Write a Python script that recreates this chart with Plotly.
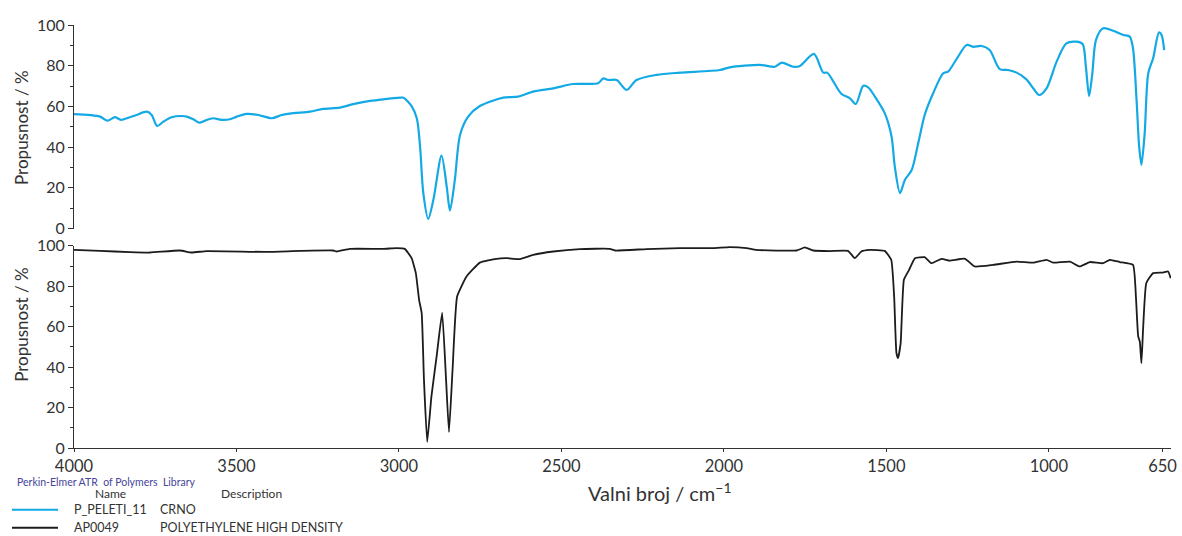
import plotly.graph_objects as go

# ---------------- data ----------------
wn_sample = [4000, 3920, 3897, 3874, 3856, 3828, 3808, 3776, 3761, 3744, 3725, 3700, 3668, 3653,
             3633, 3614, 3597, 3572, 3546, 3520, 3499, 3469, 3433, 3391, 3361, 3325, 3274, 3233,
             3182, 3141, 3089, 3049, 2996, 2986, 2961, 2945, 2935, 2925, 2910, 2894, 2869, 2853,
             2843, 2828, 2812, 2787, 2751, 2679, 2633, 2587, 2525, 2464, 2387, 2371, 2356, 2330,
             2299, 2269, 2207, 2135, 2012, 1982, 1889, 1843, 1822, 1787, 1766, 1723, 1694, 1682,
             1669, 1638, 1612, 1594, 1571, 1556, 1535, 1505, 1484, 1474, 1458, 1443, 1422, 1402,
             1382, 1356, 1325, 1310, 1284, 1253, 1233, 1207, 1182, 1151, 1125, 1099, 1069, 1048,
             1030, 1007, 976, 946, 915, 896, 886, 876, 866, 855, 833, 802, 771, 751, 741, 730,
             722, 715, 705, 694, 679, 661, 653, 645]
t_sample = [56.2, 55.0, 53.0, 54.7, 53.4, 54.7, 55.8, 57.4, 55.8, 50.4, 52.5, 54.7, 55.3, 55.0,
            53.7, 52.0, 53.0, 54.2, 53.4, 53.7, 55.0, 56.3, 55.8, 54.2, 55.8, 56.7, 57.4, 58.8,
            59.4, 61.1, 62.7, 63.5, 64.3, 64.3, 60.2, 54.2, 40.3, 17.4, 4.8, 14.1, 35.8, 20.6,
            8.8, 23.9, 46.0, 55.0, 60.2, 64.3, 64.8, 67.3, 68.9, 71.0, 71.4, 73.8, 73.0, 73.0,
            68.1, 73.0, 75.5, 76.6, 77.9, 79.2, 80.4, 79.5, 81.5, 79.5, 79.9, 85.8, 76.6, 76.6,
            73.8, 66.1, 64.0, 61.2, 70.1, 69.4, 64.8, 56.7, 45.2, 30.4, 17.4, 23.9, 28.8, 41.9,
            55.8, 66.5, 76.3, 77.1, 83.2, 90.2, 89.3, 89.7, 87.7, 78.3, 77.9, 76.6, 73.3, 68.9,
            65.6, 68.9, 82.0, 91.0, 91.8, 90.7, 79.5, 65.1, 76.3, 92.6, 98.4, 97.2, 95.1, 94.3,
            88.6, 63.2, 40.3, 31.3, 46.8, 76.3, 83.7, 96.4, 95.1, 87.7]

wn_hdpe = [4000, 3920, 3828, 3766, 3674, 3638, 3592, 3407, 3305, 3202, 3192, 3151, 3048, 3007,
           2982, 2961, 2948, 2938, 2930, 2923, 2913, 2900, 2884, 2867, 2855, 2846, 2835, 2821,
           2792, 2751, 2700, 2669, 2628, 2587, 2525, 2443, 2351, 2335, 2238, 2135, 2033, 1982,
           1930, 1900, 1776, 1751, 1725, 1674, 1618, 1597, 1577, 1551, 1505, 1485, 1476, 1469,
           1464, 1456, 1446, 1430, 1412, 1382, 1361, 1330, 1305, 1258, 1228, 1171, 1099, 1048,
           1007, 987, 935, 905, 874, 833, 812, 782, 741, 732, 725, 720, 715, 710, 700, 679, 649,
           633, 625]
t_hdpe = [98.0, 97.5, 96.9, 96.7, 97.7, 96.7, 97.4, 97.0, 97.5, 97.7, 97.2, 98.5, 98.5, 98.9,
          98.5, 93.9, 86.5, 73.3, 66.7, 33.8, 3.0, 25.5, 45.3, 67.0, 33.8, 7.9, 38.7, 74.9,
          84.8, 91.7, 93.6, 93.9, 93.4, 95.5, 97.2, 98.4, 98.5, 97.7, 98.4, 98.9, 98.9, 99.4,
          98.9, 98.0, 97.7, 99.2, 97.7, 97.4, 97.5, 93.9, 97.2, 98.0, 97.5, 93.1, 74.9, 47.0,
          44.5, 51.9, 83.2, 88.1, 93.9, 94.4, 91.4, 93.6, 92.7, 93.6, 89.8, 90.6, 92.2, 91.7,
          93.1, 91.7, 92.2, 89.8, 92.0, 91.4, 93.1, 92.0, 90.6, 74.9, 55.2, 52.7, 42.0, 58.5,
          81.6, 86.5, 86.8, 87.3, 84.0]

x_ticks = [4000, 3500, 3000, 2500, 2000, 1500, 1000, 650]
y_ticks = [0, 20, 40, 60, 80, 100]

names = ["P_PELETI_11", "AP0049"]
descriptions = ["CRNO", "POLYETHYLENE HIGH DENSITY"]
colors = ["#13A9E5", "#1c1c1c"]

# ---------------- figure geometry (pixels) ----------------
W, H = 1182, 536
L, R = 74, 1171          # plot area left / right
T, B = 25, 448.3         # plot area top / bottom
FONT = "Lato"
TXT = "#333333"


def px(x):
    return (x - L) / (R - L)


def py(y):
    return (B - y) / (B - T)


fig = go.Figure()
fig.add_trace(go.Scatter(x=wn_sample, y=t_sample, mode="lines", xaxis="x2", yaxis="y2",
                         line=dict(color=colors[0], width=2.2, shape="spline", smoothing=0.8),
                         showlegend=False, hoverinfo="skip"))
fig.add_trace(go.Scatter(x=wn_hdpe, y=t_hdpe, mode="lines", xaxis="x", yaxis="y",
                         line=dict(color=colors[1], width=1.8, shape="spline", smoothing=0.4),
                         showlegend=False, hoverinfo="skip"))

yaxis_common = dict(range=[0, 100], autorange=False, showline=True, linecolor=TXT, linewidth=1,
                    ticks="outside", ticklen=5, tickcolor=TXT, tickvals=y_ticks,
                    showgrid=False, zeroline=False, automargin=False,
                    tickfont=dict(family=FONT, size=16, color=TXT),
                    minor=dict(dtick=10, tick0=0, ticks="outside", ticklen=3, tickcolor=TXT,
                               showgrid=False))

fig.update_layout(
    width=W, height=H,
    margin=dict(l=L, r=W - R, t=T, b=H - B, autoexpand=False),
    paper_bgcolor="white", plot_bgcolor="white",
    showlegend=False,
    xaxis=dict(domain=[0, 1], range=[4000, 624], autorange=False, anchor="y",
               showline=True, linecolor=TXT, linewidth=1, ticks="outside", ticklen=3,
               tickcolor=TXT, tickvals=x_ticks, ticktext=[str(v) for v in x_ticks],
               showgrid=False, zeroline=False, automargin=False,
               tickfont=dict(family=FONT, size=16.5, color=TXT)),
    xaxis2=dict(domain=[0, 1], range=[4000, 624], autorange=False, anchor="y2",
                matches="x", visible=False),
    yaxis=dict(domain=[0, py(246)], anchor="x", **yaxis_common),
    yaxis2=dict(domain=[py(228.7), 1], anchor="x2", **yaxis_common),
)

annotations = [
    dict(x=px(22), y=py(128), text="Propusnost / %", textangle=-90, size=17),
    dict(x=px(22), y=py(325), text="Propusnost / %", textangle=-90, size=17),
    dict(x=px(660), y=py(492), text="Valni broj / cm<sup>−1</sup>", textangle=0, size=20),
]
for a in annotations:
    s = a.pop("size")
    a.update(xref="paper", yref="paper", showarrow=False, xanchor="center", yanchor="middle",
             font=dict(family=FONT, size=s, color=TXT))

small = [
    dict(x=px(15), y=py(482), text="Perkin-Elmer ATR  of Polymers  Library",
         font=dict(family=FONT, size=10.5, color="#45459a")),
    dict(x=px(93), y=py(494), text="Name", font=dict(family=FONT, size=12, color=TXT)),
    dict(x=px(219), y=py(494), text="Description", font=dict(family=FONT, size=12, color=TXT)),
]
shapes = []
for i, (nm, ds, col) in enumerate(zip(names, descriptions, colors)):
    yy = 510 + i * 18
    shapes.append(dict(type="line", xref="paper", yref="paper", x0=px(12), x1=px(58),
                       y0=py(yy), y1=py(yy), line=dict(color=col, width=2)))
    small.append(dict(x=px(72), y=py(yy), text=nm, font=dict(family=FONT, size=12.5, color=TXT)))
    small.append(dict(x=px(158), y=py(yy), text=ds, font=dict(family=FONT, size=12.5, color=TXT)))
for a in small:
    a.update(xref="paper", yref="paper", showarrow=False, xanchor="left", yanchor="middle")

fig.update_layout(annotations=annotations + small, shapes=shapes)

# remove the browser's default 8px page margin so the figure sits at the window's corner
fig.write_html("out.html", config={"displayModeBar": False},
               post_script="document.body.style.margin='0';document.body.style.overflow='hidden';")
